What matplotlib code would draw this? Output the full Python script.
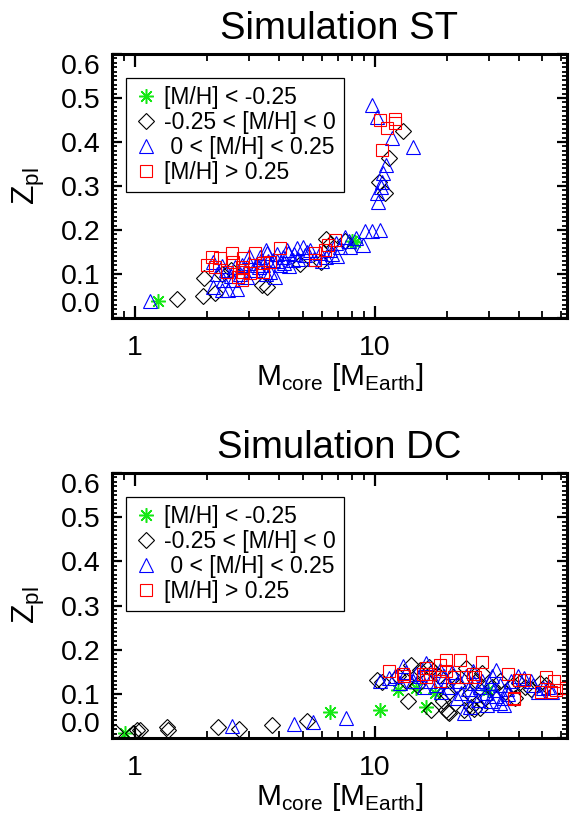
import numpy as np
import matplotlib
matplotlib.use("Agg")
import matplotlib.pyplot as plt

plt.rcParams['font.family'] = ['Liberation Sans', 'DejaVu Sans']
plt.rcParams['mathtext.fontset'] = 'custom'
plt.rcParams['mathtext.rm'] = 'Liberation Sans'

# ---------------- data: Simulation ST (core mass [M_Earth], Z_pl) ----------------
st_green_m = [1.25, 8.26, 8.0]
st_green_z = [0.038, 0.172, 0.176]

st_black_m = [1.49, 1.91, 1.94, 2.15, 2.3, 2.5, 3.37, 3.54, 4.87, 5.97, 6.28, 6.5, 7.5,
              13.1, 11.5, 10.4, 11.0]
st_black_z = [0.043, 0.051, 0.09, 0.056, 0.1, 0.11, 0.075, 0.07, 0.123, 0.127, 0.18, 0.168, 0.176,
              0.424, 0.363, 0.31, 0.283]

st_blue_m = [1.15,
             9.75, 10.2, 11.8, 14.4, 11.1, 10.8, 10.7, 10.6, 10.2, 10.3,
             2.12, 2.12, 2.30, 2.45, 2.65, 2.33, 2.57, 2.92, 3.11, 3.32, 3.54, 3.77, 4.02,
             4.15, 4.35, 4.57, 4.72, 5.03, 5.11, 5.36, 5.9, 6.29, 7.15, 7.5, 7.87, 8.39,
             8.94, 9.08, 9.77, 10.56, 3.83, 3.65, 3.21,
             2.2, 2.4, 2.6, 2.8, 3.0, 3.4, 3.6, 3.9, 4.2, 4.4, 4.8, 2.5, 2.75, 3.0, 3.3,
             3.5, 3.9, 4.3, 4.6, 5.2, 5.6, 6.0, 6.6, 6.9, 7.8, 6.5, 3.5, 2.3, 6.98]
st_blue_z = [0.039,
             0.484, 0.456, 0.408, 0.389, 0.348, 0.329, 0.31, 0.298, 0.283, 0.264,
             0.128, 0.071, 0.064, 0.064, 0.067, 0.086, 0.086, 0.094, 0.109, 0.139, 0.147, 0.132, 0.120,
             0.139, 0.147, 0.132, 0.158, 0.162, 0.143, 0.155, 0.147, 0.139, 0.162, 0.185, 0.162, 0.181,
             0.166, 0.198, 0.198, 0.2, 0.094, 0.105, 0.12,
             0.1, 0.11, 0.115, 0.12, 0.125, 0.12, 0.13, 0.13, 0.125, 0.118, 0.135, 0.095, 0.1, 0.14, 0.115,
             0.1, 0.145, 0.155, 0.145, 0.15, 0.135, 0.13, 0.145, 0.17, 0.175, 0.155, 0.155, 0.118, 0.142]

st_red_m = [10.5, 12.1, 11.2, 12.1, 10.7,
            1.99, 2.09, 2.26, 2.53, 2.57, 2.78, 2.83, 2.41, 2.69, 3.16, 3.43, 3.65, 3.43,
            4.02, 5.62, 5.62, 6.19, 6.81, 6.4, 2.78, 2.15, 3.02, 2.83]
st_red_z = [0.45, 0.452, 0.431, 0.443, 0.382,
            0.12, 0.139, 0.136, 0.147, 0.128, 0.117, 0.136, 0.105, 0.094, 0.147, 0.124, 0.128, 0.105,
            0.158, 0.147, 0.132, 0.155, 0.177, 0.166, 0.086, 0.117, 0.102, 0.105]

# ---------------- data: Simulation DC ----------------
dc_green_m = [0.91, 6.49, 10.5, 12.5, 14.9, 16.4, 17.8, 29.7]
dc_green_z = [0.011, 0.058, 0.064, 0.109, 0.113, 0.071, 0.102, 0.109]

dc_black_m = [0.826, 0.98, 1.02, 1.05, 1.36, 1.37, 2.22, 2.72, 3.71, 5.19,
              10.2, 10.7, 13.8, 17.2, 19.9, 20.5, 19.3, 23.7, 25.3, 27.4, 14.2, 26.4, 24.1,
              30.9, 33.2, 37.8, 42.4, 48.9, 28.0, 21.3, 17.5, 15.5, 16.8, 18.5, 20.0, 22.0,
              12.5, 13.5, 15.0, 25.0, 29.0, 35.0, 40.0, 45.0, 52.0, 38.5, 20.3, 26.0]
dc_black_z = [0.014, 0.012, 0.017, 0.018, 0.026, 0.018, 0.024, 0.02, 0.03, 0.039,
              0.132, 0.127, 0.083, 0.064, 0.064, 0.056, 0.083, 0.064, 0.071, 0.068, 0.166, 0.128, 0.158,
              0.116, 0.128, 0.12, 0.116, 0.124, 0.147, 0.137, 0.151, 0.155, 0.16, 0.14, 0.1, 0.12,
              0.14, 0.13, 0.12, 0.1, 0.09, 0.105, 0.125, 0.11, 0.12, 0.09, 0.058, 0.066]

dc_blue_m = [2.53, 4.6, 5.5, 7.57,
             10.5, 12.1, 13.1, 25.7, 32.1, 39.5, 44.9, 33.2, 34.8, 50.4, 23.0, 25.7, 29.2,
             27.4, 31.5, 20.5, 18.7, 16.4, 14.9, 23.7, 34.8, 30.6,
             11.5, 12.8, 13.5, 14.5, 15.5, 17.0, 18.0, 19.5, 21.0, 22.5, 24.0, 26.0, 28.0,
             30.0, 31.0, 33.5, 35.5, 37.0, 42.0, 46.0, 48.0, 53.0, 55.0, 27.0, 25.0, 22.0,
             29.5, 32.0, 36.0, 19.0, 16.0, 24.5, 20.0]
dc_blue_z = [0.027, 0.032, 0.037, 0.045,
             0.13, 0.14, 0.162, 0.151, 0.155, 0.14, 0.128, 0.079, 0.09, 0.113, 0.101, 0.098, 0.101,
             0.116, 0.109, 0.116, 0.155, 0.17, 0.144, 0.056, 0.075, 0.083,
             0.135, 0.125, 0.15, 0.13, 0.14, 0.13, 0.12, 0.14, 0.15, 0.13, 0.14, 0.125, 0.13,
             0.125, 0.14, 0.12, 0.11, 0.13, 0.135, 0.12, 0.105, 0.115, 0.105, 0.085, 0.07, 0.09,
             0.075, 0.095, 0.1, 0.105, 0.115, 0.11, 0.13]

dc_red_m = [11.5, 13.1, 16.4, 16.4, 18.7, 18.7, 19.9, 19.9, 21.5, 22.6, 24.1, 26.1, 25.7,
            28.1, 35.9, 40.2, 41.8, 38.3, 51.9, 49.4, 54.4, 56.2, 57.1, 62.9, 15.9, 13.2, 17.0, 38.0]
dc_red_z = [0.151, 0.146, 0.158, 0.137, 0.166, 0.128, 0.177, 0.151, 0.137, 0.177, 0.137, 0.137, 0.144,
            0.173, 0.144, 0.132, 0.132, 0.09, 0.137, 0.105, 0.105, 0.128, 0.109, 0.113, 0.144, 0.14, 0.145, 0.088]

labels = ['[M/H] < -0.25', '-0.25 < [M/H] < 0', ' 0 < [M/H] < 0.25', '[M/H] > 0.25']

x_major = [1, 10]
x_minor = [0.8, 0.9, 2, 3, 4, 5, 6, 7, 8, 9, 20, 30, 40, 50, 60]
y_major = [0.0, 0.1, 0.2, 0.3, 0.4, 0.5, 0.6]

panels = [
    ('Simulation ST', st_green_m, st_green_z, st_black_m, st_black_z,
     st_blue_m, st_blue_z, st_red_m, st_red_z),
    ('Simulation DC', dc_green_m, dc_green_z, dc_black_m, dc_black_z,
     dc_blue_m, dc_blue_z, dc_red_m, dc_red_z),
]

fig = plt.figure(figsize=(5.73, 8.18), dpi=100)
W, H = 573.0, 818.0
rects = [[112 / W, 1 - 318 / H, 455 / W, 264 / H],
         [112 / W, 1 - 738 / H, 455 / W, 265 / H]]

for rect, (title, gm, gz, km, kz, bm, bz, rm, rz) in zip(rects, panels):
    ax = fig.add_axes(rect)
    ax.plot(gm, gz, ls='none', marker=(8, 2, 0), ms=10.5, mew=1.1, color='#16e816', label=labels[0])
    ax.plot(km, kz, ls='none', marker='D', ms=7.8, mew=0.8, mfc='none', mec='black', label=labels[1])
    ax.plot(bm, bz, ls='none', marker='^', ms=9.5, mew=0.8, mfc='none', mec='#0000ff', label=labels[2])
    ax.plot(rm, rz, ls='none', marker='s', ms=8.4, mew=0.8, mfc='none', mec='#ff0000', label=labels[3])

    ax.set_xscale('log')
    ax.set_xlim(0.8, 63.5)
    ax.set_ylim(0, 0.6)
    ax.set_xticks(x_major, labels=['1', '10'])
    ax.set_xticks(x_minor, minor=True)
    ax.set_xticklabels([], minor=True)
    ax.set_yticks(y_major, labels=['%.1f' % v for v in y_major])
    ax.set_yticks(np.round(np.arange(0, 0.601, 0.01), 2), minor=True)

    ax.tick_params(which='both', direction='in', top=True, right=True)
    ax.tick_params(which='major', length=7, width=1.6, labelsize=20.5)
    ax.tick_params(which='minor', length=3.5, width=1.3)
    ax.tick_params(axis='x', which='major', length=9, pad=12)
    ax.tick_params(axis='x', which='minor', length=5)
    ax.tick_params(axis='y', which='major', pad=8)
    for sp in ax.spines.values():
        sp.set_linewidth(2.2)

    ylabs = ax.get_yticklabels()
    ylabs[0].set_verticalalignment('bottom')
    ylabs[-1].set_verticalalignment('top')

    ax.set_xlabel(r'M$_\mathregular{core}$ [M$_\mathregular{Earth}$]', fontsize=21.5, labelpad=0)
    ax.set_ylabel(r'Z$_\mathregular{pl}$', fontsize=23, labelpad=10)
    ax.set_title(title, fontsize=27.5, pad=11)

    leg = ax.legend(loc='upper left', bbox_to_anchor=(0.031, 0.909), borderaxespad=0,
                    fontsize=16.5, fancybox=False, framealpha=1, edgecolor='black',
                    handlelength=1.0, handletextpad=0.3, labelspacing=0.08,
                    borderpad=0.35, numpoints=1)
    leg.get_frame().set_linewidth(0.9)

fig.savefig('out.png', dpi=100)
